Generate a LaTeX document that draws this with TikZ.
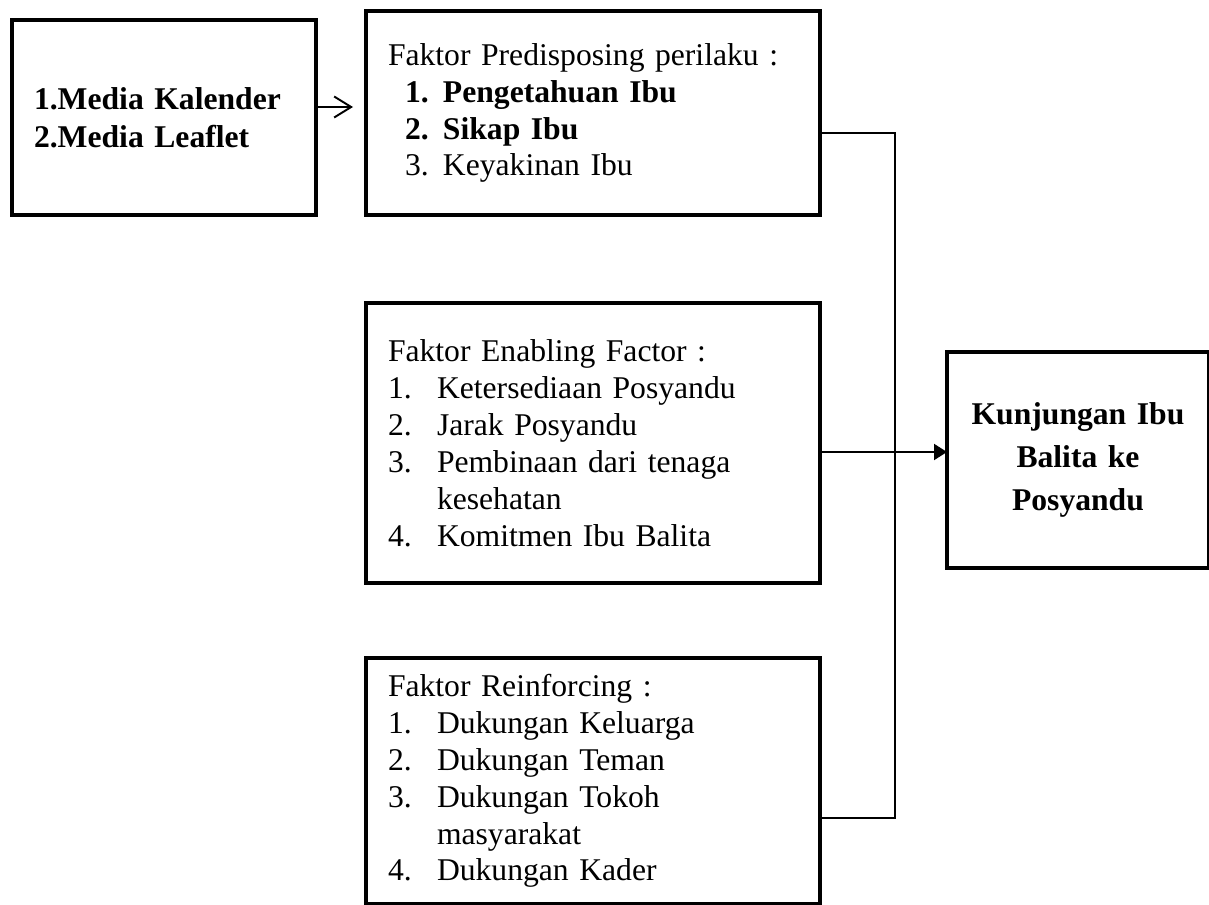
\documentclass[tikz,border=0pt]{standalone}
\usepackage{fontspec}
\setmainfont{Liberation Serif}
\usetikzlibrary{positioning, arrows.meta}

\tikzset{
  kotak/.style={draw, rectangle, line width=2.4pt, outer sep=0pt, align=left, inner xsep=0.44cm, font=\fontsize{18}{21}\selectfont},
  garis/.style={line width=0.8pt},
  panah/.style={line width=1.1pt}
}

\begin{document}
\begin{tikzpicture}
            \useasboundingbox (0,0) rectangle (24.18,-18.1);
            \node[kotak, anchor=north west, text width=5.2cm, minimum height=3.9cm, font=\bfseries\fontsize{18}{21.6}\selectfont] (media) at (0.24,-0.4) {1.Media Kalender\\2.Media Leaflet};
            \node[kotak, right=1cm of media, yshift=0.09cm, text width=8.2cm, minimum height=4.08cm] (predis) {Faktor Predisposing perilaku :\\
              \hspace*{0.34cm}\makebox[0.76cm][l]{\textbf{1.}}\textbf{Pengetahuan Ibu}\\
              \hspace*{0.34cm}\makebox[0.76cm][l]{\textbf{2.}}\textbf{Sikap Ibu}\\
              \hspace*{0.34cm}\makebox[0.76cm][l]{3.}Keyakinan Ibu};
            \node[kotak, below=1.76cm of predis, text width=8.2cm, minimum height=5.6cm] (enabling) {Faktor Enabling Factor :\\
              \makebox[0.98cm][l]{1.}Ketersediaan Posyandu\\
              \makebox[0.98cm][l]{2.}Jarak Posyandu\\
              \makebox[0.98cm][l]{3.}Pembinaan dari tenaga\\
              \hspace*{0.98cm}kesehatan\\
              \makebox[0.98cm][l]{4.}Komitmen Ibu Balita};
            \node[kotak, below=1.5cm of enabling, text width=8.2cm, minimum height=4.92cm] (reinf) {Faktor Reinforcing :\\
              \makebox[0.98cm][l]{1.}Dukungan Keluarga\\
              \makebox[0.98cm][l]{2.}Dukungan Teman\\
              \makebox[0.98cm][l]{3.}Dukungan Tokoh\\
              \hspace*{0.98cm}masyarakat\\
              \makebox[0.98cm][l]{4.}Dukungan Kader};
            \node[kotak, right=2.54cm of enabling, yshift=-0.34cm, align=center, text width=4.36cm, minimum height=4.32cm, font=\bfseries\fontsize{18}{24.5}\selectfont] (kunjungan) {Kunjungan Ibu\\Balita ke\\Posyandu};
            \draw[panah, -{Straight Barb[length=0.34cm, width=0.42cm]}, shorten >=0.26cm] ([yshift=0.21cm]media.east) -- ([yshift=0.21cm]media.east -| predis.west);
            \draw[garis] ([yshift=-0.4cm]predis.east) -- ++(1.5cm,0) |- ([yshift=-0.74cm]reinf.east);
            \draw[panah, -{Triangle[length=0.26cm, width=0.32cm]}] ([yshift=-0.18cm]enabling.east) -- ([yshift=-0.18cm]enabling.east -| kunjungan.west);
        \end{tikzpicture}
\end{document}
